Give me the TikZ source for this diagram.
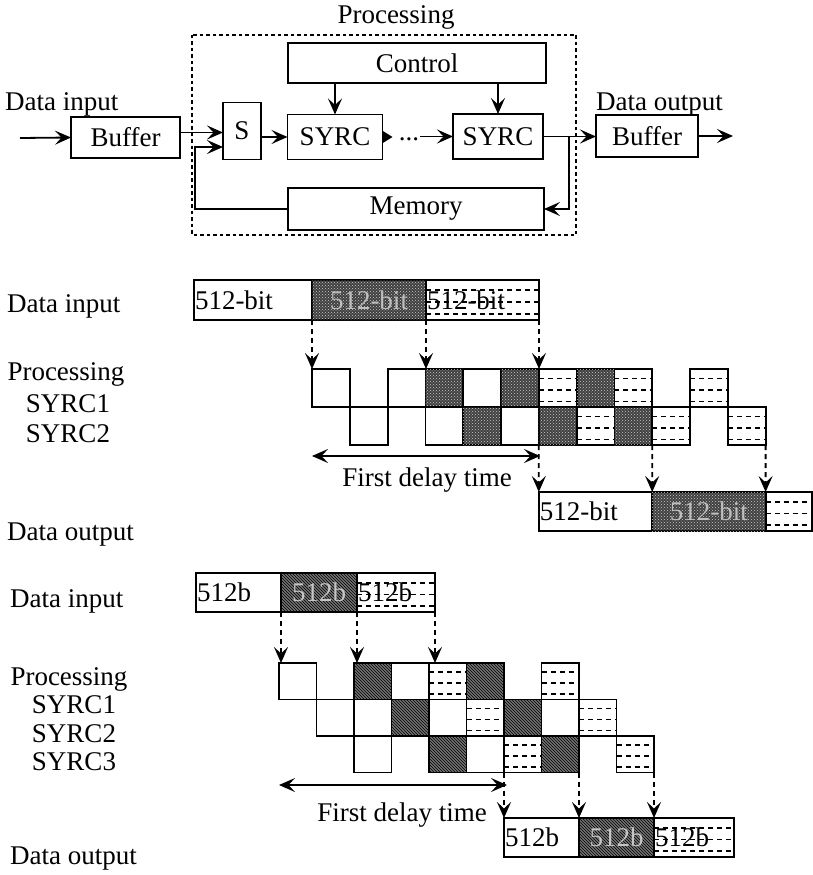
\documentclass[tikz,border=0pt]{standalone}
\usepackage{fontspec}
\setmainfont{Liberation Serif}
\usetikzlibrary{arrows.meta,patterns,calc}

\tikzset{
  arr/.style={line width=1.8pt, -{Stealth[length=16pt,width=14pt,inset=6.5pt]}},
  darr/.style={arr, dash pattern=on 5pt off 4pt},
  dbl/.style={line width=1.8pt, {Stealth[length=16pt,width=14pt,inset=6.5pt]}-{Stealth[length=16pt,width=14pt,inset=6.5pt]}},
  blk/.style={draw, line width=1.8pt, inner sep=0pt, outer sep=0pt},
  cell/.style={draw, line width=1.8pt, anchor=north west, inner sep=0pt, outer sep=0pt},
  seg/.style={draw, line width=1.8pt, anchor=north west, inner xsep=1pt, inner ysep=0pt, outer sep=0pt, align=left},
  lbl/.style={anchor=base west, inner sep=0pt},
  sub/.style={anchor=base, inner sep=0pt},
  wt/.style={fill=white},
  dk/.style={fill=black!75, postaction={pattern=crosshatch dots, pattern color=gray!40}, text=gray!50},
  hk/.style={fill=black!55, postaction={pattern=north west lines, pattern color=black}, text=gray!45},
  lt/.style={fill=white, path picture={
      \foreach \f in {0.25,0.55,0.85}
        \draw[dash pattern=on 5pt off 4pt, line width=1.5pt]
          ($(path picture bounding box.north west)!\f!(path picture bounding box.south west)$) --
          ($(path picture bounding box.north east)!\f!(path picture bounding box.south east)$);}},
}

\begin{document}
\begin{tikzpicture}[x=1pt, y=-1pt, font=\fontsize{27}{29}\selectfont]
  \useasboundingbox (0,0) rectangle (813,875);

  % block diagram
  \draw[line width=2.2pt, dash pattern=on 3.5pt off 3pt] (192,35) rectangle (576,235);
  \node (proc) at (396,17) {Processing};
  \node[lbl] (din) at (5,110) {Data input};
  \node[lbl] (dout) at (596,110) {Data output};
  \node[blk, minimum width=109pt, minimum height=41pt] (buf1) at (125.5,137.5) {Buffer};
  \node[blk, minimum width=38pt, minimum height=57pt] (sel) at (242,131) {S};
  \node[blk, minimum width=95pt, minimum height=45pt] (syrc1) at (335,137) {SYRC};
  \node[blk, minimum width=90pt, minimum height=45pt] (syrc2) at (498,136.5) {SYRC};
  \node[blk, minimum width=258pt, minimum height=40pt] (ctrl) at (417,63) {Control};
  \node[blk, minimum width=256pt, minimum height=42pt] (mem) at (416,209) {Memory};
  \node[blk, minimum width=102pt, minimum height=42pt] (buf2) at (647,136) {Buffer};
  \node[inner sep=1pt] (dots) at (409,139) {...};
  \coordinate (in) at (20,138);
  \coordinate (out) at (733,136);
  \coordinate (fbL) at (195,147);
  \coordinate (fbR) at (569,136.5);

  \draw[arr] (in) -- (buf1.west);
  \draw[arr] ([yshift=5pt]buf1.east) -- ([yshift=5pt]buf1.east -| sel.west);
  \draw[arr] (mem.west) -| (fbL) -- (fbL -| sel.west);
  \draw[arr] (sel.east |- syrc1.west) -- (syrc1.west);
  \draw[line width=1.8pt, -{Triangle[length=10pt,width=12pt]}] (syrc1.east) -- ++(10,0);
  \draw[arr] (dots.east |- syrc2.west) -- (syrc2.west);
  \draw[arr] (syrc2.east) -- (syrc2.east -| buf2.west);
  \draw[arr] (buf2.east) -- (out);
  \draw[arr] (fbR) |- (mem.east);
  \draw[arr] (ctrl.south -| syrc1.north) -- (syrc1.north);
  \draw[arr] (ctrl.south -| syrc2.north) -- (syrc2.north);

  % timing with two SYRC
  \node[lbl] (lin1) at (7,312) {Data input};
  \node[sub] (lp1) at (66,380) {Processing};
  \node[sub] (ls11) at (68,412) {SYRC1};
  \node[sub] (ls12) at (68,442) {SYRC2};
  \node[lbl] (lout1) at (7,540) {Data output};

  \node[seg, wt, text width=116pt, minimum height=40pt] (i1a) at (194,280) {512-bit};
  \node[seg, dk, text width=112pt, minimum height=40pt, align=center] (i1b) at (i1a.north east) {512-bit};
  \node[seg, lt, text width=111pt, minimum height=40pt] (i1c) at (i1b.north east) {512-bit};

  \foreach \c/\r/\t in {0/0/wt, 2/0/wt, 3/0/dk, 4/0/wt, 5/0/dk, 6/0/lt, 7/0/dk, 8/0/lt, 10/0/lt,
                        1/1/wt, 3/1/wt, 4/1/dk, 5/1/wt, 6/1/dk, 7/1/lt, 8/1/dk, 9/1/lt, 11/1/lt}
    \node[cell, \t, minimum width=37.8pt, minimum height=38pt] (a\r-\c) at ({312+37.8*\c},{369+38*\r}) {};

  \draw[darr] (i1a.south east) -- (a0-0.north west);
  \draw[darr] (i1b.south east) -- (i1b.south east |- a0-3.north);
  \draw[darr] (i1c.south east) -- (i1c.south east |- a0-6.north);

  \coordinate (t1L) at (312,456);
  \coordinate (t1R) at (540,456);
  \draw[dbl] (t1L) -- (t1R);
  \node (fd1) at (427,480) {First delay time};

  \node[seg, wt, text width=111.4pt, minimum height=39pt] (o1a) at (538.8,492) {512-bit};
  \node[seg, dk, text width=111.4pt, minimum height=39pt, align=center] (o1b) at (o1a.north east) {512-bit};
  \node[seg, lt, text width=44pt, minimum height=39pt] (o1c) at (o1b.north east) {};
  \draw[darr] (a1-6.south west) -- (o1a.north west);
  \draw[darr] (a1-8.south east) -- (o1b.north west);
  \draw[darr] (a1-11.south east) -- (o1c.north west);

  % timing with three SYRC
  \node[lbl] (lin2) at (10,607) {Data input};
  \node[sub] (lp2) at (69,685) {Processing};
  \node[sub] (ls21) at (74,713) {SYRC1};
  \node[sub] (ls22) at (74,742) {SYRC2};
  \node[sub] (ls23) at (74,770) {SYRC3};
  \node[lbl] (lout2) at (10,864) {Data output};

  \node[seg, wt, text width=83pt, minimum height=39pt] (i2a) at (196,573) {512b};
  \node[seg, hk, text width=74pt, minimum height=39pt, align=center] (i2b) at (i2a.north east) {512b};
  \node[seg, lt, text width=76pt, minimum height=39pt] (i2c) at (i2b.north east) {512b};

  \foreach \c/\r/\t in {0/0/wt, 2/0/hk, 3/0/wt, 4/0/lt, 5/0/hk, 7/0/lt,
                        1/1/wt, 2/1/wt, 3/1/hk, 4/1/wt, 5/1/lt, 6/1/hk, 7/1/wt, 8/1/lt,
                        2/2/wt, 4/2/hk, 5/2/wt, 6/2/lt, 7/2/hk, 9/2/lt}
    \node[cell, \t, minimum width=37.5pt, minimum height=36.5pt] (b\r-\c) at ({279+37.5*\c},{663+36.5*\r}) {};

  \draw[darr] (i2a.south east) -- (i2a.south east |- b0-0.north);
  \draw[darr] (i2b.south east) -- (i2b.south east |- b0-2.north);
  \draw[darr] (i2c.south east) -- (i2c.south east |- b0-4.north);

  \coordinate (t2L) at (279,785);
  \coordinate (t2R) at (507,785);
  \draw[dbl] (t2L) -- (t2R);
  \node (fd2) at (402,815) {First delay time};

  \node[seg, wt, text width=73pt, minimum height=39pt] (o2a) at (504,818) {512b};
  \node[seg, hk, text width=73pt, minimum height=39pt, align=center] (o2b) at (o2a.north east) {512b};
  \node[seg, lt, text width=78pt, minimum height=39pt] (o2c) at (o2b.north east) {512b};
  \draw[darr] (b2-6.south west) -- (o2a.north west);
  \draw[darr] (b2-7.south east) -- (o2b.north west);
  \draw[darr] (b2-9.south east) -- (o2c.north west);
\end{tikzpicture}
\end{document}
